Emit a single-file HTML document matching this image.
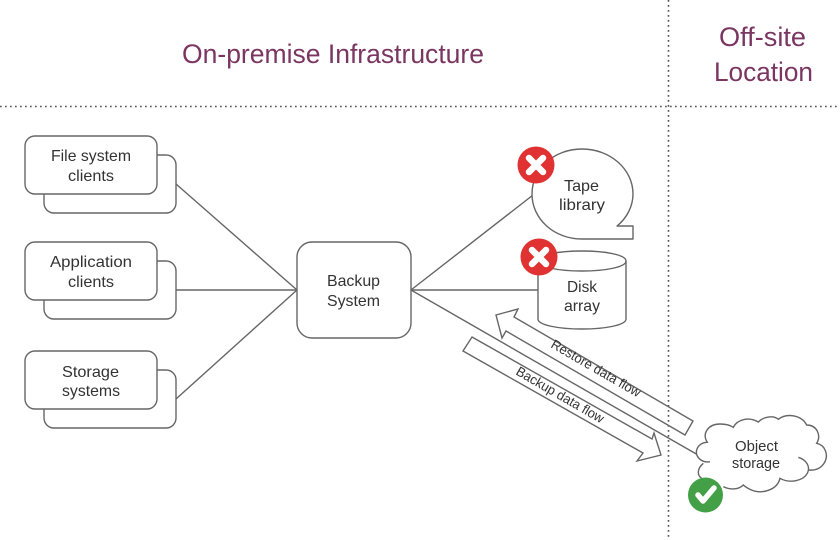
<!DOCTYPE html>
<html><head><meta charset="utf-8"><style>
html,body{margin:0;padding:0;background:#fff}
svg{display:block}
text{font-family:"Liberation Sans",sans-serif;fill:#333;font-size:16px}
.t{fill:#7a3560;font-size:27px}
.s{fill:#fff;stroke:#666;stroke-width:1.4;stroke-linejoin:round}
.l{fill:none;stroke:#666;stroke-width:1.4}
.d{fill:none;stroke:#555;stroke-width:1.6;stroke-dasharray:1.7 3.3}
</style></head><body>
<svg width="840" height="540" viewBox="0 0 840 540" xmlns="http://www.w3.org/2000/svg">
<line class="d" x1="0" y1="106.500" x2="840" y2="106.500"/>
<line class="d" x1="668.500" y1="0" x2="668.500" y2="540"/>
<text class="t" x="182" y="63" textLength="302" lengthAdjust="spacingAndGlyphs">On-premise Infrastructure</text>
<text class="t" x="719" y="46" textLength="87" lengthAdjust="spacingAndGlyphs">Off-site</text>
<text class="t" x="714" y="81" textLength="99" lengthAdjust="spacingAndGlyphs">Location</text>

<g class="l">
<line x1="176" y1="184" x2="297" y2="290"/>
<line x1="176" y1="290" x2="297" y2="290"/>
<line x1="176" y1="399" x2="297" y2="290"/>
<line x1="411" y1="290" x2="533" y2="195"/>
<line x1="411" y1="290" x2="538" y2="290"/>
<line x1="411" y1="290" x2="698" y2="455"/>
</g>

<rect class="s" x="44" y="155" width="132" height="58" rx="10"/>
<rect class="s" x="25" y="136" width="132" height="58" rx="10"/>
<rect class="s" x="44" y="261" width="132" height="58" rx="10"/>
<rect class="s" x="25" y="242" width="132" height="58" rx="10"/>
<rect class="s" x="44" y="370" width="132" height="58" rx="10"/>
<rect class="s" x="25" y="351" width="132" height="58" rx="10"/>
<rect class="s" x="297" y="242" width="114" height="96" rx="15"/>

<text x="51" y="161" textLength="80" lengthAdjust="spacingAndGlyphs">File system</text>
<text x="68" y="181" textLength="46" lengthAdjust="spacingAndGlyphs">clients</text>
<text x="50" y="267" textLength="82" lengthAdjust="spacingAndGlyphs">Application</text>
<text x="68" y="287" textLength="46" lengthAdjust="spacingAndGlyphs">clients</text>
<text x="62" y="377" textLength="57" lengthAdjust="spacingAndGlyphs">Storage</text>
<text x="62" y="396" textLength="58" lengthAdjust="spacingAndGlyphs">systems</text>
<text x="327" y="286" textLength="53" lengthAdjust="spacingAndGlyphs">Backup</text>
<text x="327" y="306" textLength="53" lengthAdjust="spacingAndGlyphs">System</text>

<path class="s" d="M582 239 H633 V226 H617 C627 218 633 206 633 194 C633 169 610 149 582 149 C554 149 532 169 532 194 C532 219 554 239 582 239 Z"/>
<text x="564" y="191" textLength="35" lengthAdjust="spacingAndGlyphs">Tape</text>
<text x="559" y="210" textLength="46" lengthAdjust="spacingAndGlyphs">library</text>

<path class="s" d="M538 261 C538 255 558 251 582 251 C606 251 626 255 626 261 V319 C626 325 606 329 582 329 C558 329 538 325 538 319 Z"/>
<path class="l" d="M538 261 C538 267 558 271 582 271 C606 271 626 267 626 261"/>
<text x="567" y="292" textLength="30" lengthAdjust="spacingAndGlyphs">Disk</text>
<text x="564" y="311" textLength="36" lengthAdjust="spacingAndGlyphs">array</text>

<polygon class="l" points="496,315 518,309 514,317 693,421 685,435 506,331 502,338"/>
<polygon class="l" points="472,337 652,439 654,433 661,455 637,461 643,453 463,351"/>
<text transform="translate(550,347) rotate(30)" style="font-size:13.500px" textLength="101" lengthAdjust="spacingAndGlyphs">Restore data flow</text>
<text transform="translate(515,374) rotate(30)" style="font-size:13.500px" textLength="99" lengthAdjust="spacingAndGlyphs">Backup data flow</text>

<g transform="translate(690,410) scale(0.3333)">
<path fill="#fff" stroke="none" d="M60 155 C35 160 15 140 20 120 C24 105 38 97 52 97 C35 70 55 42 90 42 C105 42 120 45 130 52 C140 30 175 18 205 36 C220 20 250 15 265 28 C290 8 335 15 350 45 C380 45 395 75 380 100 C405 105 418 135 402 160 C392 175 375 182 355 180 C340 212 300 222 270 205 C262 240 215 255 180 238 C172 234 165 230 160 225 C145 240 120 240 100 230 L35 205 C20 195 22 175 40 160 Z"/>
<path fill="none" stroke="#666" stroke-width="4.200" d="M60 155 C35 160 15 140 20 120 C24 105 38 97 52 97 C35 70 55 42 90 42 C105 42 120 45 130 52 C140 30 175 18 205 36 C220 20 250 15 265 28 C290 8 335 15 350 45 C380 45 395 75 380 100 C405 105 418 135 402 160 C392 175 375 182 355 180 M325 142 C350 150 362 170 352 190 C340 212 300 222 270 205 C262 240 215 255 180 238 C172 234 165 230 160 225 C145 240 120 240 100 230 M40 160 C22 175 20 195 35 205"/>
</g>
<text x="735" y="451" style="font-size:14.500px" textLength="43" lengthAdjust="spacingAndGlyphs">Object</text>
<text x="732" y="468" style="font-size:14.500px" textLength="48" lengthAdjust="spacingAndGlyphs">storage</text>

<circle cx="536" cy="165" r="18.500" fill="#e03232"/>
<path d="M529 158 L543 172 M543 158 L529 172" stroke="#fff" stroke-width="6.500" stroke-linecap="round"/>
<circle cx="539" cy="257" r="18.500" fill="#e03232"/>
<path d="M532 250 L546 264 M546 250 L532 264" stroke="#fff" stroke-width="6.500" stroke-linecap="round"/>
<circle cx="705.500" cy="495" r="17.500" fill="#43a047"/>
<path d="M698 495 L703 501 L714 488" fill="none" stroke="#fff" stroke-width="5.500" stroke-linecap="round" stroke-linejoin="round"/>
</svg>
</body></html>
